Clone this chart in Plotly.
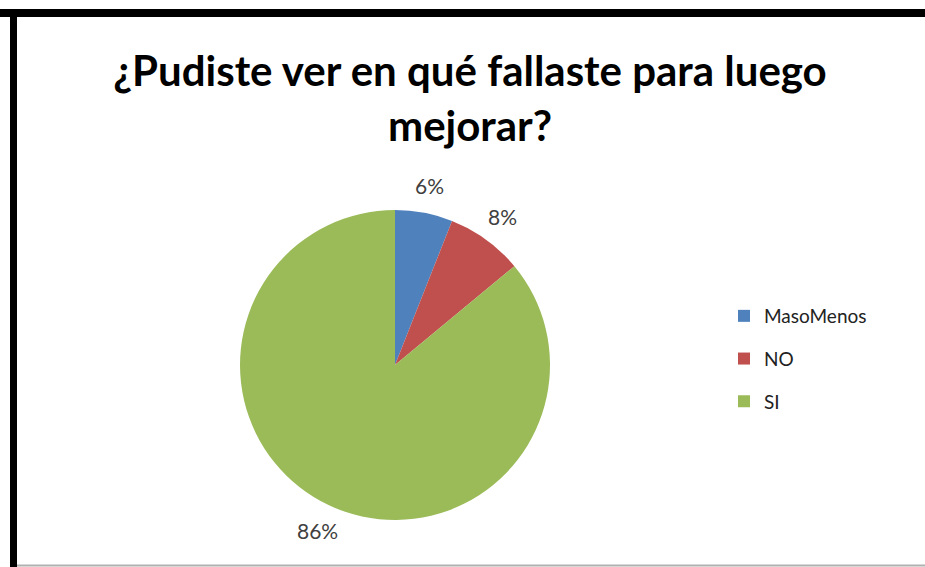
import math
import plotly.graph_objects as go

categories = ["MasoMenos", "NO", "SI"]
values = [6, 8, 86]
colors = ["#4F81BD", "#C0504D", "#9BBB59"]
title_text = "¿Pudiste ver en qué fallaste para luego<br>mejorar?"

W, H = 925, 567
CX, CY, R_PIE = 395, 365, 155   # pie centre / radius in pixels
R_LAB = 183                      # label distance from centre in pixels

fig = go.Figure()
fig.add_trace(go.Pie(
    labels=categories, values=values, sort=False, direction="clockwise",
    rotation=0, marker=dict(colors=colors),
    textinfo="none", showlegend=False,
    domain=dict(x=[(CX - R_PIE) / W, (CX + R_PIE) / W],
                y=[1 - (CY + R_PIE) / H, 1 - (CY - R_PIE) / H]),
))

# percentage labels placed radially at each slice's mid-angle
total = sum(values)
cum = 0
annotations = []
for v in values:
    mid = (cum + v / 2) / total
    cum += v
    th = 2 * math.pi * mid
    px = CX + R_LAB * math.sin(th)
    py = CY - R_LAB * math.cos(th)
    annotations.append(dict(
        x=px / W, y=1 - py / H, xref="paper", yref="paper",
        text=f"{round(100 * v / total)}%", showarrow=False,
        xanchor="center", yanchor="middle",
        font=dict(family="Lato", size=21, color="#404040"),
    ))

for cat, col in zip(categories, colors):
    fig.add_trace(go.Scatter(
        x=[None], y=[None], mode="markers", name=cat,
        marker=dict(symbol="square", size=12, color=col),
        legendgroup=cat, showlegend=True,
    ))

shapes = [
    dict(type="rect", xref="paper", yref="paper", x0=0.0, x1=1.0,
         y0=1 - 17 / H, y1=1 - 9 / H, fillcolor="black", line=dict(width=0)),
    dict(type="rect", xref="paper", yref="paper", x0=10 / W, x1=17 / W,
         y0=0, y1=1 - 9 / H, fillcolor="black", line=dict(width=0)),
    dict(type="line", xref="paper", yref="paper", x0=17 / W, x1=1.0,
         y0=1.5 / H, y1=1.5 / H, line=dict(color="#B0B0B0", width=2)),
]

fig.update_layout(
    width=W, height=H,
    margin=dict(l=0, r=0, t=0, b=0),
    paper_bgcolor="white", plot_bgcolor="white",
    title=dict(text=title_text, x=470 / W, xanchor="center",
               y=1 - 86 / H, yanchor="top",
               font=dict(family="Lato", size=42, color="black", weight="bold")),
    xaxis=dict(visible=False), yaxis=dict(visible=False),
    legend=dict(x=724 / W, xanchor="left", y=1 - 359 / H, yanchor="middle",
                font=dict(family="Lato", size=19, color="#222222"),
                tracegroupgap=15, bgcolor="rgba(0,0,0,0)"),
    shapes=shapes,
    annotations=annotations,
)

fig.write_html("out.html", config={"displayModeBar": False},
               post_script="document.body.style.margin='0px';")
